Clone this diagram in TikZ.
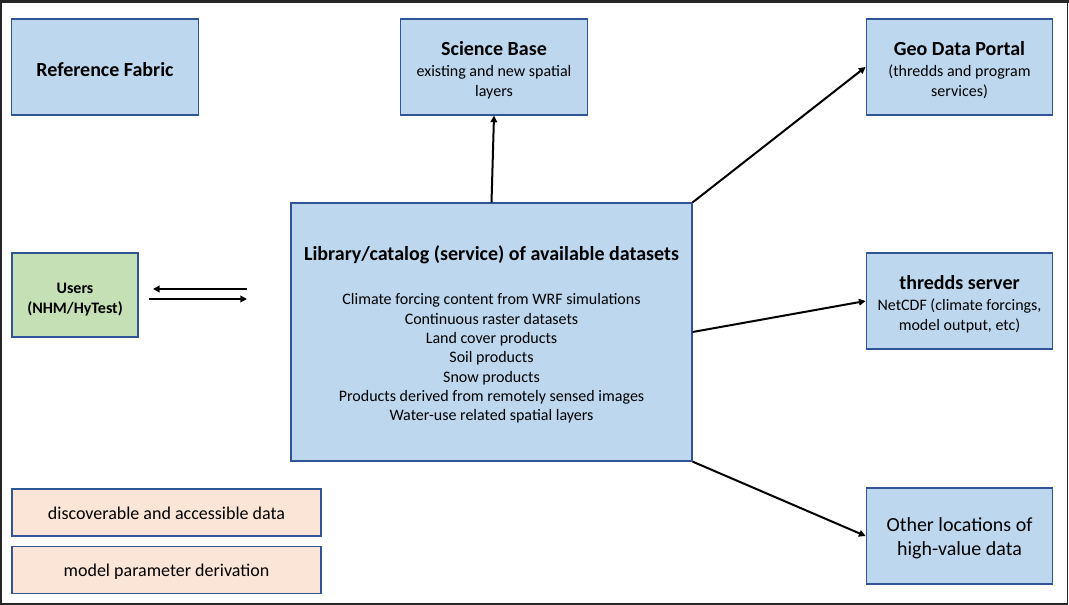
\documentclass[tikz,border=0pt]{standalone}
\usepackage{fontspec}
\setmainfont{Carlito}
\usetikzlibrary{arrows.meta}
\definecolor{boxblue}{HTML}{BDD7EE}
\definecolor{boxline}{HTML}{2F5597}
\definecolor{usersgreen}{HTML}{C5E0B4}
\definecolor{peach}{HTML}{FBE5D6}
\definecolor{framegray}{HTML}{262626}
\begin{document}
\begin{tikzpicture}[x=0.75pt,y=-0.75pt]
        \tikzstyle{block} = [rectangle, text=black, align=center, draw=boxline, fill=boxblue, line width=.9pt, inner sep=0pt, font=\fontsize{12}{14.5}\selectfont, minimum width=140pt, minimum height=72pt]
        \tikzstyle{line} = [-{Triangle[length=5pt,width=5pt]},draw=black,line width=1.5pt]
        \newcommand{\btitle}[1]{{\fontsize{15}{18}\selectfont\bfseries\rule{0pt}{15pt}#1}}
        \useasboundingbox (0,0) rectangle (1069,605);
        % screen frame
        \fill[framegray] (0,0) rectangle (1069,3.5);
        \fill[framegray] (0,0) rectangle (2,605);
        \draw[framegray,line width=1pt] (1067.5,3) -- (1067.5,604) -- (2,604);
        \node[block] (fabric) at (105,67) {\btitle{Reference Fabric}};
        \node[block] (sbase) at (494,67) {\btitle{Science Base}\\[1.5pt]existing and new spatial\\layers};
        \node[block] (gdp) at (959.5,67) {\btitle{Geo Data Portal}\\[1.5pt](thredds and program\\services)};
        \node[block,fill=usersgreen,minimum width=94.5pt,minimum height=63pt,font=\fontsize{12}{15}\selectfont\bfseries] (users) at (75,295) {\rule{0pt}{14pt}Users\\(NHM/HyTest)};
        \node[block,minimum width=300.75pt,minimum height=193.5pt] (library) at (491.5,332) {\btitle{Library/catalog (service) of available datasets}\\[18.5pt]
            Climate forcing content from WRF simulations\\
            Continuous raster datasets\\
            Land cover products\\
            Soil products\\
            Snow products\\
            Products derived from remotely sensed images\\
            Water-use related spatial layers};
        \node[block] (thredds) at (959.5,301) {\btitle{thredds server}\\[1.5pt]NetCDF (climate forcings,\\model output, etc)};
        \node[block,font=\fontsize{15}{18.5}\selectfont] (other) at (959.5,536) {\rule{0pt}{14pt}Other locations of\\high-value data};
        \node[block,fill=peach,minimum width=231.75pt,minimum height=35.25pt,font=\fontsize{13.5}{16}\selectfont] (access) at (166.5,512.5) {\rule{0pt}{11pt}discoverable and accessible data};
        \node[block,fill=peach,minimum width=231.75pt,minimum height=35pt,font=\fontsize{13.5}{16}\selectfont] (params) at (166.5,570) {\rule{0pt}{12pt}model parameter derivation};
        %\node[block] (users2) at (75,400) {Users};
        \coordinate (toR) at (247,289);
        \coordinate (toL) at (153,289);
        \coordinate (fromL) at (149,299);
        \coordinate (fromR) at (247,299);
        \draw[line] (toR) to (toL);
        \draw[line] (fromL) to (fromR);
        \draw[line] (library.north) to (sbase.south);
        \draw[line] (library.north east) to (gdp.west);
        \draw[line] (library.east) to (thredds.west);
        \draw[line] (library.south east) to (other.west);
    \end{tikzpicture}
\end{document}
